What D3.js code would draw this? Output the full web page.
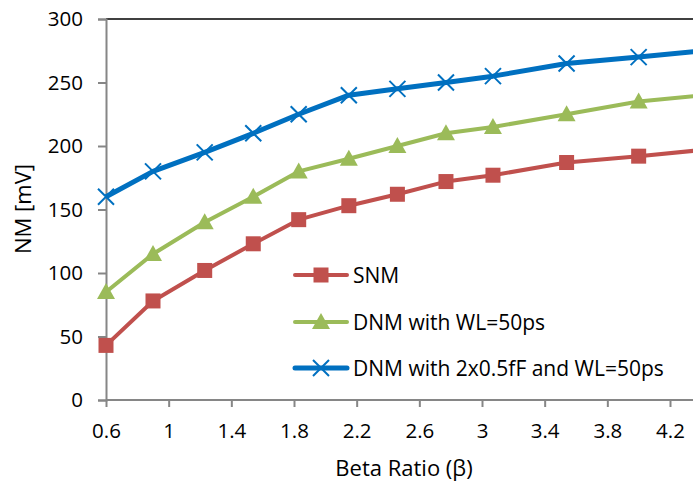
<!DOCTYPE html>
<html><head><meta charset="utf-8">
<script src="https://cdn.jsdelivr.net/npm/d3@7"></script>
<style>body{margin:0;background:#fff}svg{display:block;font-family:"Open Sans",sans-serif}</style>
</head><body><svg id="c" width="693" height="482"></svg>
<script>
const beta = [0.6, 0.9, 1.23, 1.54, 1.83, 2.15, 2.46, 2.77, 3.07, 3.54, 4.0, 4.5];
const snm = [43, 78, 102, 123, 142, 153, 162, 172, 177, 187, 192, 198];
const dnm = [85, 115, 140, 160, 180, 190, 200, 210, 215, 225, 235, 241];
const dnmCap = [160, 180, 195, 210, 225, 240, 245, 250, 255, 265, 270, 276];
const seriesNames = ["SNM", "DNM with WL=50ps", "DNM with 2x0.5fF and WL=50ps"];
const xTicks = [0.6, 1, 1.4, 1.8, 2.2, 2.6, 3, 3.4, 3.8, 4.2];
const yTicks = [0, 50, 100, 150, 200, 250, 300];

const svg = d3.select("#c");
const x = d3.scaleLinear().domain([0.6, 4.2]).range([106, 670]);
const y = d3.scaleLinear().domain([0, 300]).range([400, 19]);
const grey = "#868686";
const FONT = "'Open Sans',sans-serif";

svg.append("line").attr("x1", 106).attr("x2", 693).attr("y1", 19).attr("y2", 19).attr("stroke", "#000").attr("stroke-width", 1.3);

const yAxis = svg.append("g").attr("transform", "translate(106,0)")
  .call(d3.axisLeft(y).tickValues(yTicks).tickSize(8).tickPadding(15));
const xAxis = svg.append("g").attr("transform", "translate(0,400)")
  .call(d3.axisBottom(x).tickValues(xTicks).tickFormat(d3.format("")).tickSize(7).tickPadding(16));
xAxis.select(".domain").attr("d", "M106,0H693");
[yAxis, xAxis].forEach(g => {
  g.selectAll("path,line").attr("stroke", grey).attr("stroke-width", 2);
  g.selectAll("text").attr("font-size", 20.5).attr("fill", "#000").attr("font-family", FONT);
});

svg.append("text").attr("transform", "translate(31,209) rotate(-90)").attr("text-anchor", "middle")
  .attr("font-size", 22).text("NM [mV]");
svg.append("text").attr("x", 404).attr("y", 476).attr("text-anchor", "middle")
  .attr("font-size", 22).text("Beta Ratio (β)");

const series = [
  {name: seriesNames[0], vals: snm, color: "#C0504D", w: 4, mk: "square"},
  {name: seriesNames[1], vals: dnm, color: "#9BBB59", w: 4, mk: "triangle"},
  {name: seriesNames[2], vals: dnmCap, color: "#0070C0", w: 5, mk: "cross"}
];

function marker(g, type, color, cx, cy) {
  if (type === "square") {
    g.append("rect").attr("x", cx - 7.5).attr("y", cy - 7.5).attr("width", 15).attr("height", 15).attr("fill", color);
  } else if (type === "triangle") {
    g.append("path").attr("d", `M${cx},${cy - 9}L${cx + 9},${cy + 7}L${cx - 9},${cy + 7}Z`).attr("fill", color);
  } else {
    g.append("path").attr("d", `M${cx - 8},${cy - 8}L${cx + 8},${cy + 8}M${cx - 8},${cy + 8}L${cx + 8},${cy - 8}`)
      .attr("stroke", color).attr("stroke-width", 2).attr("fill", "none");
  }
}

const line = d3.line().x((d, i) => x(beta[i])).y(d => y(d));
series.forEach(s => {
  const g = svg.append("g");
  g.append("path").datum(s.vals).attr("d", line).attr("fill", "none")
    .attr("stroke", s.color).attr("stroke-width", s.w).attr("stroke-linejoin", "round");
  s.vals.forEach((v, i) => marker(g, s.mk, s.color, x(beta[i]), y(v)));
});

const legY = [275, 322, 368];
series.forEach((s, i) => {
  const g = svg.append("g");
  g.append("line").attr("x1", 295).attr("x2", 347).attr("y1", legY[i]).attr("y2", legY[i])
    .attr("stroke", s.color).attr("stroke-width", s.w).attr("stroke-linecap", "round");
  marker(g, s.mk, s.color, 321, legY[i]);
  g.append("text").attr("x", 353).attr("y", legY[i] + 8).attr("font-size", 21).text(s.name);
});
</script></body></html>
